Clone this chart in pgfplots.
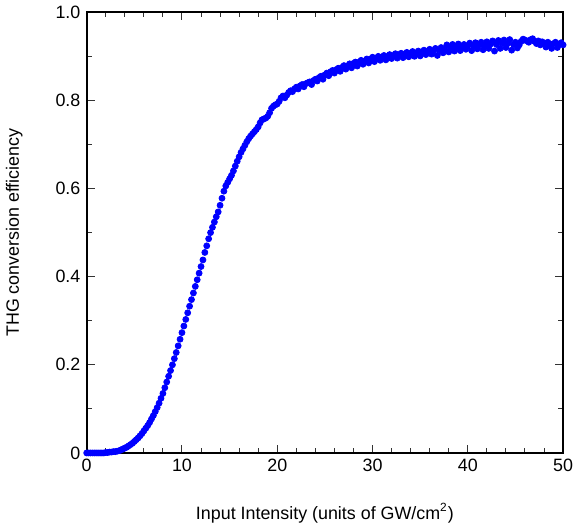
\documentclass[border=0pt]{standalone}
\usepackage{fontspec}
\setmainfont{Liberation Sans}
\usepackage{pgfplots}
\pgfplotsset{compat=1.18}
\definecolor{dotblue}{RGB}{0,0,255}

\begin{document}
\fontsize{9}{11}\selectfont
\begin{tikzpicture}
\begin{axis}[
  scale only axis, width=240pt, height=222pt,
  xmin=0, xmax=50, ymin=0, ymax=1,
  xtick={0,10,...,50}, minor x tick num=4,
  ytick={0,0.2,0.4,0.6,0.8,1.0}, minor y tick num=1,
  yticklabels={0,0.2,0.4,0.6,0.8,1.0},
  tick align=inside, tick pos=both,
  major tick length=4pt, minor tick length=2.5pt,
  axis line style={line width=1pt}, tick style={line width=0.5pt, black!80},
  /pgf/number format/assume math mode=true,
  tick label style={font=\fontsize{9}{11}\selectfont},
  label style={font=\fontsize{9}{11}\selectfont},
  xlabel={Input Intensity (units of GW/cm\textsuperscript{2})},
  ylabel={THG conversion efficiency},
  xlabel style={at={(axis description cs:0.5,-0.137)}, anchor=center},
  ylabel style={at={(axis description cs:-0.152,0.5)}, anchor=center, rotate=0},
  clip=false,
]
\addplot[only marks, mark=*, mark size=1.5pt, color=dotblue] coordinates {
(0.0,0) (0.2,0) (0.4,0) (0.6,0) (0.8,0) (1.0,0) (1.2,0) (1.4,0) (1.6,0) (1.8,0)
(2.0,0.001) (2.2,0.001) (2.4,0.002) (2.6,0.002) (2.8,0.003) (3.0,0.003) (3.2,0.004) (3.4,0.005) (3.6,0.007) (3.8,0.009)
(4.0,0.011) (4.2,0.013) (4.4,0.016) (4.6,0.019) (4.8,0.022) (5.0,0.026) (5.2,0.030) (5.4,0.034) (5.6,0.039) (5.8,0.044)
(6.0,0.050) (6.2,0.056) (6.4,0.062) (6.6,0.069) (6.8,0.077) (7.0,0.085) (7.2,0.094) (7.4,0.103) (7.6,0.113) (7.8,0.124)
(8.0,0.135) (8.2,0.148) (8.4,0.161) (8.6,0.174) (8.8,0.187) (9.0,0.200) (9.2,0.214) (9.4,0.228) (9.6,0.243) (9.8,0.258)
(10.0,0.273) (10.2,0.288) (10.4,0.303) (10.6,0.318) (10.8,0.333) (11.0,0.348) (11.2,0.363) (11.4,0.378) (11.6,0.393) (11.8,0.408)
(12.0,0.423) (12.2,0.438) (12.4,0.455) (12.6,0.470) (12.8,0.486) (13.0,0.500) (13.2,0.512) (13.4,0.524) (13.6,0.536) (13.8,0.547)
(14.0,0.562) (14.2,0.578) (14.4,0.594) (14.6,0.606) (14.8,0.614) (15.0,0.622) (15.2,0.630) (15.4,0.640) (15.6,0.651) (15.8,0.662)
(16.0,0.672) (16.2,0.682) (16.4,0.690) (16.6,0.698) (16.8,0.706) (17.0,0.713) (17.2,0.719) (17.4,0.724) (17.6,0.729) (17.8,0.734)
(18.0,0.740) (18.2,0.749) (18.4,0.756) (18.6,0.758) (18.8,0.760) (19.0,0.764) (19.2,0.772) (19.4,0.782) (19.6,0.787) (19.8,0.790)
(20.0,0.792) (20.2,0.798) (20.4,0.806) (20.6,0.810) (20.8,0.806) (21.0,0.812) (21.2,0.818) (21.4,0.822) (21.6,0.820) (21.8,0.826)
(22.0,0.830) (22.2,0.826) (22.4,0.833) (22.6,0.836) (22.8,0.831) (23.0,0.838) (23.2,0.840) (23.4,0.842) (23.6,0.836) (23.8,0.845)
(24.0,0.848) (24.2,0.844) (24.4,0.852) (24.6,0.855) (24.8,0.848) (25.0,0.858) (25.2,0.862) (25.4,0.856) (25.6,0.865) (25.8,0.868)
(26.0,0.862) (26.2,0.870) (26.4,0.873) (26.6,0.866) (26.8,0.875) (27.0,0.879) (27.2,0.871) (27.4,0.879) (27.6,0.883) (27.8,0.874)
(28.0,0.884) (28.2,0.887) (28.4,0.878) (28.6,0.887) (28.8,0.891) (29.0,0.882) (29.2,0.889) (29.4,0.894) (29.6,0.885) (29.8,0.894)
(30.0,0.898) (30.2,0.888) (30.4,0.896) (30.6,0.900) (30.8,0.891) (31.0,0.898) (31.2,0.902) (31.4,0.892) (31.6,0.900) (31.8,0.904)
(32.0,0.895) (32.2,0.902) (32.4,0.906) (32.6,0.896) (32.8,0.904) (33.0,0.907) (33.2,0.897) (33.4,0.905) (33.6,0.909) (33.8,0.899)
(34.0,0.907) (34.2,0.911) (34.4,0.900) (34.6,0.908) (34.8,0.912) (35.0,0.901) (35.2,0.909) (35.4,0.914) (35.6,0.904) (35.8,0.912)
(36.0,0.916) (36.2,0.905) (36.4,0.913) (36.6,0.918) (36.8,0.902) (37.0,0.914) (37.2,0.920) (37.4,0.908) (37.6,0.916) (37.8,0.926)
(38.0,0.910) (38.2,0.920) (38.4,0.927) (38.6,0.912) (38.8,0.921) (39.0,0.928) (39.2,0.913) (39.4,0.922) (39.6,0.927) (39.8,0.916)
(40.0,0.924) (40.2,0.930) (40.4,0.913) (40.6,0.923) (40.8,0.931) (41.0,0.917) (41.2,0.926) (41.4,0.932) (41.6,0.915) (41.8,0.925)
(42.0,0.933) (42.2,0.918) (42.4,0.928) (42.6,0.935) (42.8,0.912) (43.0,0.927) (43.2,0.936) (43.4,0.918) (43.6,0.930) (43.8,0.937)
(44.0,0.920) (44.2,0.929) (44.4,0.938) (44.6,0.914) (44.8,0.927) (45.0,0.932) (45.2,0.919) (45.4,0.926) (45.6,0.934) (45.8,0.939)
(46.0,0.937) (46.2,0.935) (46.4,0.932) (46.6,0.938) (46.8,0.940) (47.0,0.934) (47.2,0.929) (47.4,0.935) (47.6,0.926) (47.8,0.933)
(48.0,0.930) (48.2,0.921) (48.4,0.932) (48.6,0.926) (48.8,0.918) (49.0,0.929) (49.2,0.932) (49.4,0.920) (49.6,0.927) (49.8,0.931)
(50.0,0.926)
};
\end{axis}
\end{tikzpicture}
\end{document}
